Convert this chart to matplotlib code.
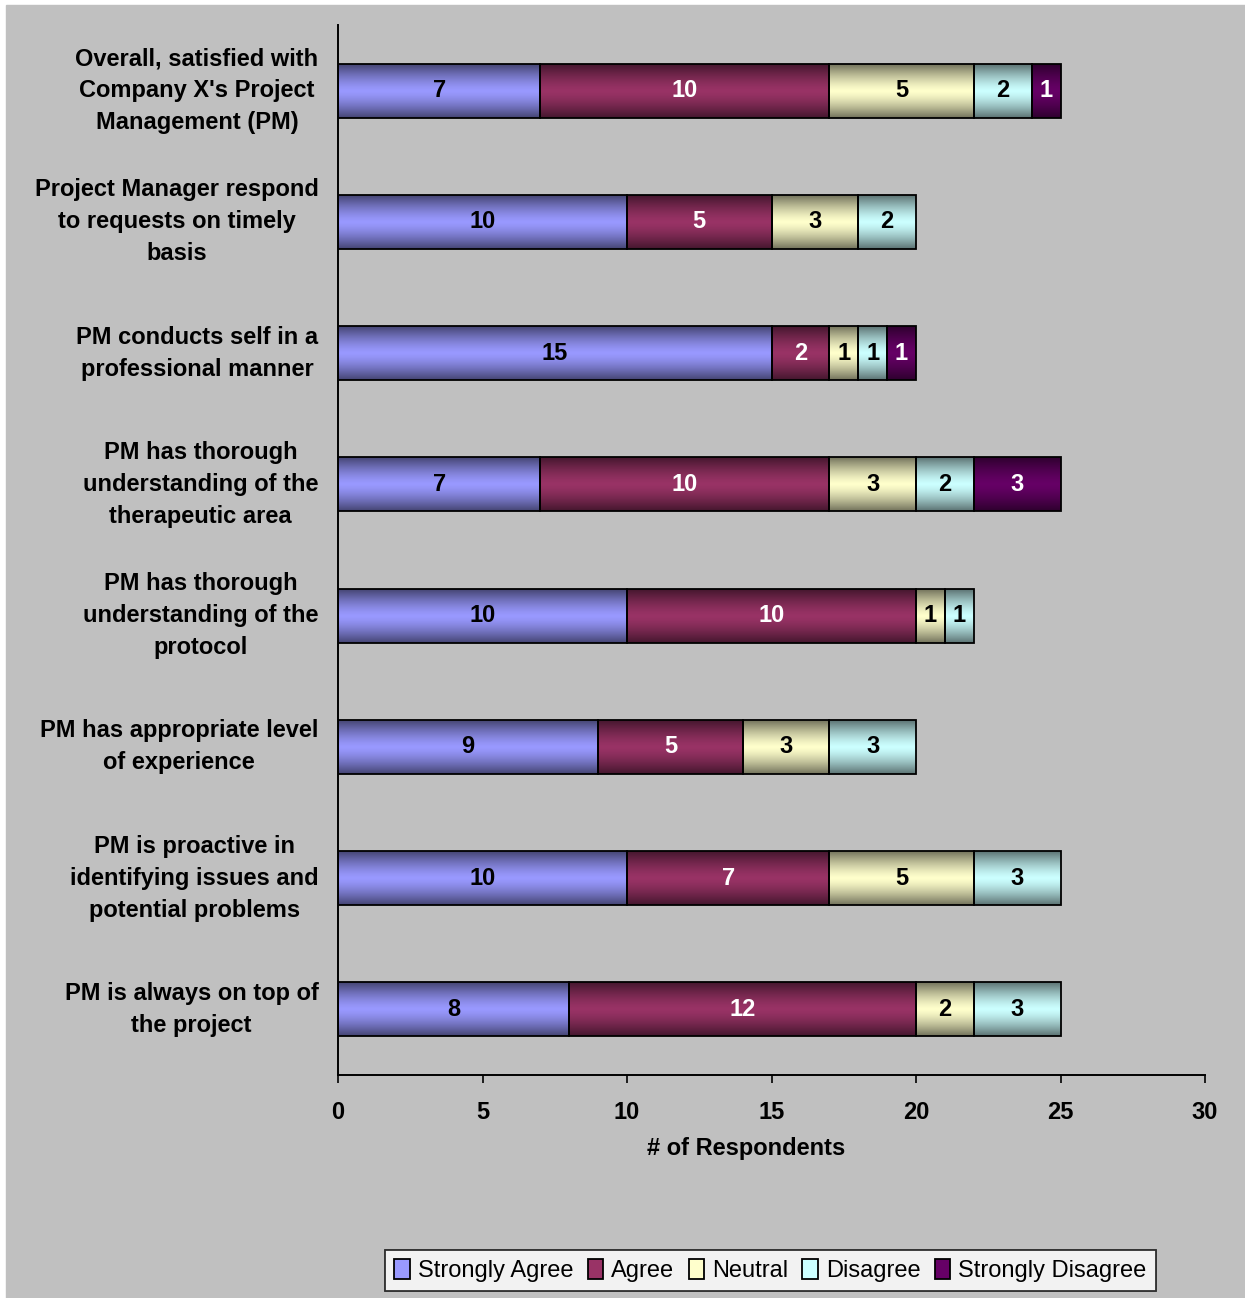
import numpy as np
import matplotlib
matplotlib.use('Agg')
import matplotlib.pyplot as plt
from matplotlib.patches import Patch, Rectangle
from matplotlib.colors import to_rgb

plt.rcParams['font.family'] = ['Liberation Sans', 'DejaVu Sans']

# survey questions, top to bottom
questions = [
    "Overall, satisfied with\nCompany X's Project\nManagement (PM)",
    "Project Manager respond\nto requests on timely\nbasis",
    "PM conducts self in a\nprofessional manner",
    "PM has thorough\nunderstanding of the\ntherapeutic area",
    "PM has thorough\nunderstanding of the\nprotocol",
    "PM has appropriate level\nof experience",
    "PM is proactive in\nidentifying issues and\npotential problems",
    "PM is always on top of\nthe project",
]

responses = ['Strongly Agree', 'Agree', 'Neutral', 'Disagree', 'Strongly Disagree']

strongly_agree    = [7, 10, 15, 7, 10, 9, 10, 8]
agree             = [10, 5, 2, 10, 10, 5, 7, 12]
neutral           = [5, 3, 1, 3, 1, 3, 5, 2]
disagree          = [2, 2, 1, 2, 1, 3, 3, 3]
strongly_disagree = [1, 0, 1, 3, 0, 0, 0, 0]

series = [strongly_agree, agree, neutral, disagree, strongly_disagree]
colors = ['#9999FF', '#993366', '#FFFFCC', '#CCFFFF', '#660066']
text_colors = ['black', 'white', 'black', 'black', 'white']

x_ticks = [0, 5, 10, 15, 20, 25, 30]

W, H = 1245, 1298
fig = plt.figure(figsize=(W / 100, H / 100), dpi=100, facecolor='white')
# grey chart area (thin white margin top/left)
fig.patches.append(Rectangle((6 / W, 0), 1 - 6 / W, 1 - 5 / H,
                             transform=fig.transFigure, color='#C0C0C0', zorder=-10))

ax = fig.add_axes([338 / W, 1 - 1075 / H, (1205 - 338) / W, 1050 / H])
ax.set_facecolor('none')


def shade(patch, color):
    # cylinder-like gradient: dark at top/bottom edge, bright in the middle
    x, y = patch.get_x(), patch.get_y()
    w, h = patch.get_width(), patch.get_height()
    t = np.linspace(0, 1, 80)
    f = 1 - 0.55 * np.abs(2 * t - 1) ** 1.4
    rgb = np.array(to_rgb(color))
    img = (rgb[None, :] * f[:, None])[:, None, :]
    im = ax.imshow(img, extent=(x, x + w, y + h, y), aspect='auto',
                   interpolation='bilinear', zorder=2)
    im.set_clip_path(patch)


y = np.arange(len(questions))
left = np.zeros(len(questions))
for vals, col, tcol in zip(series, colors, text_colors):
    vals = np.array(vals)
    bars = ax.barh(y, vals, left=left, height=0.41, color=col,
                   edgecolor='black', linewidth=1.3, zorder=2)
    for bar, v in zip(bars, vals):
        if v == 0:
            bar.set_visible(False)
            continue
        shade(bar, col)
        bar.set_facecolor('none')
        bar.set_zorder(3)
        ax.text(bar.get_x() + bar.get_width() / 2, bar.get_y() + bar.get_height() / 2,
                str(v), ha='center', va='center', fontsize=17, fontweight='bold',
                color=tcol, zorder=4)
    left += vals

ax.set_xlim(0, 30)
ax.set_ylim(len(questions) - 0.5, -0.5)
ax.set_xticks(x_ticks)
ax.set_xticklabels([str(t) for t in x_ticks], fontsize=17, fontweight='bold')
ax.set_yticks(y)
ax.set_yticklabels(questions, fontsize=17, fontweight='bold', va='center',
                   multialignment='center', linespacing=1.5)
ax.tick_params(axis='y', length=0, pad=14)
ax.tick_params(axis='x', direction='out', length=6, width=1.2, pad=13)
for s in ['top', 'right']:
    ax.spines[s].set_visible(False)
for s in ['left', 'bottom']:
    ax.spines[s].set_linewidth(1.4)

ax.set_xlabel('# of Respondents', fontsize=17, fontweight='bold')
ax.xaxis.set_label_coords(0.4706, -0.059)

handles = [Patch(facecolor=c, edgecolor='black', linewidth=1.3) for c in colors]
leg = fig.legend(handles, responses, loc='center', bbox_to_anchor=(770.5 / W, 1 - 1270.5 / H),
                 ncol=5, fontsize=17, frameon=True, fancybox=False, edgecolor='black',
                 handlelength=0.65, handleheight=0.9, handletextpad=0.35, columnspacing=0.6,
                 borderpad=0.4, borderaxespad=0)
leg.get_frame().set_linewidth(1.3)
leg.get_frame().set_facecolor('white')

plt.savefig('out.png', dpi=100)
plt.close()
